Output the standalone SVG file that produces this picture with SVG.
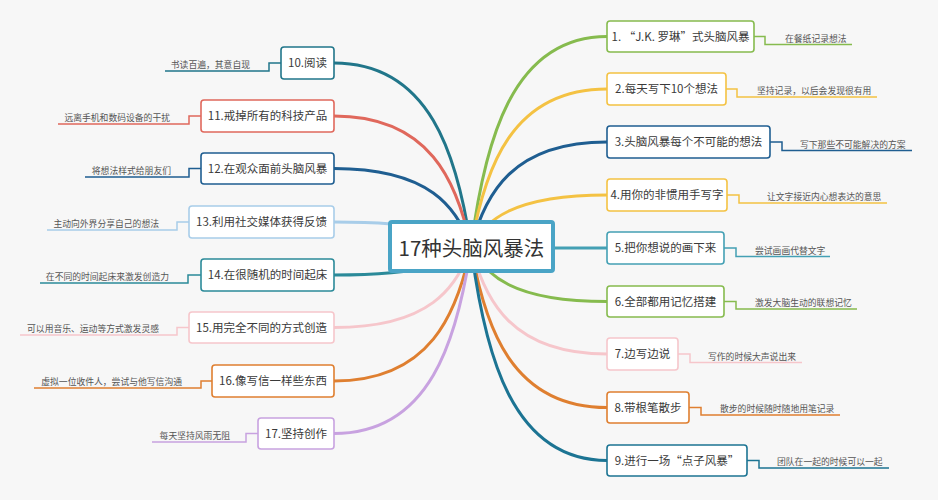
<svg xmlns="http://www.w3.org/2000/svg" width="938" height="500" viewBox="0 0 938 500">
<style>
text{font-family:"Noto Sans CJK SC","Noto Sans",sans-serif;}
.t{font-size:11.5px;fill:#3a3a3a;text-anchor:middle;}
.s{font-size:8.8px;fill:#555;}
.r{text-anchor:end;}
.n{fill:#fff;stroke-width:1.6;}
.m{fill:none;stroke-width:3;stroke-linecap:round;}
.l{fill:none;stroke-width:1.5;}
.green{stroke:#86bb4e}.yellow{stroke:#f4c243}.dblue{stroke:#1f5e91}.teal{stroke:#44a0b4}
.pink{stroke:#f6c6cb}.orange{stroke:#df7f30}.dteal{stroke:#1c7493}.teal2{stroke:#21768a}
.red{stroke:#e0685c}.lblue{stroke:#a8cde9}.teal3{stroke:#2b8a99}.lav{stroke:#c8a2e0}
</style>
<rect x="0" y="0" width="938" height="500" fill="#f7f7f7"/>
<g id="connectors">
<path class="m green" d="M471 247 C484.6 141.75 511.8 36.5 607 36.5"/>
<path class="m yellow" d="M471 247 C484.6 168 511.8 89 607 89"/>
<path class="m dblue" d="M471 247 C484.6 194.5 511.8 142 607 142"/>
<path class="m yellow" d="M471 247 C484.6 221 511.8 195 607 195"/>
<path class="m teal" d="M471 248 H607"/>
<path class="m green" d="M471 247 C484.6 274.25 511.8 301.5 607 301.5"/>
<path class="m pink" d="M471 247 C484.6 300.5 511.8 354 607 354"/>
<path class="m orange" d="M471 247 C484.6 327.25 511.8 407.5 607 407.5"/>
<path class="m dteal" d="M471 247 C484.6 353.75 511.8 460.5 607 460.5"/>
<path class="m teal2" d="M471 247 C457.3 155 429.9 63 334 63"/>
<path class="m red" d="M471 247 C457.3 181.5 429.9 116 334 116"/>
<path class="m dblue" d="M471 247 C457.3 207.75 429.9 168.5 334 168.5"/>
<path class="m lblue" d="M471 247 C457.3 234.5 429.9 222 334 222"/>
<path class="m teal3" d="M471 247 C457.3 261 429.9 275 334 275"/>
<path class="m pink" d="M471 247 C457.3 287.25 429.9 327.5 334 327.5"/>
<path class="m orange" d="M471 247 C457.3 314 429.9 381 334 381"/>
<path class="m lav" d="M471 247 C457.3 340.25 429.9 433.5 334 433.5"/>
<path class="l green" d="M754 36.5 H765 V44.5 H852"/>
<path class="l yellow" d="M726 89 H737 V97 H877"/>
<path class="l dblue" d="M770 142 H782 V150.5 H912"/>
<path class="l yellow" d="M727 195 H739 V203 H887"/>
<path class="l teal" d="M724 248 H736 V256.5 H830"/>
<path class="l green" d="M724 301.5 H736 V309 H857"/>
<path class="l pink" d="M678 354 H690 V362.5 H802"/>
<path class="l orange" d="M689 407.5 H701 V415 H840"/>
<path class="l dteal" d="M747 460.5 H759 V468 H889"/>
<path class="l teal2" d="M281 63 H269 V71 H165"/>
<path class="l red" d="M201 116 H189 V124 H58"/>
<path class="l dblue" d="M201 168.5 H189 V177 H85"/>
<path class="l lblue" d="M189 222 H177 V230 H47"/>
<path class="l teal3" d="M201 275 H188 V283 H40"/>
<path class="l pink" d="M189 327.5 H177 V335 H20"/>
<path class="l orange" d="M212 381 H201 V388 H34"/>
<path class="l lav" d="M258 433.5 H246 V442 H152"/>
</g>
<g id="center">
<rect x="390" y="222" width="163" height="49" rx="2" fill="#fff" stroke="#4aa4c6" stroke-width="4"/>
<text x="471.5" y="256" font-size="20.5" fill="#333" text-anchor="middle">17种头脑风暴法</text>
</g>
<g id="n1"><rect class="n green" x="607" y="21" width="147" height="31" rx="3"/><text class="t" x="680.5" y="40.5">1. “J.K. 罗琳”式头脑风暴</text></g>
<g id="n2"><rect class="n yellow" x="607" y="73" width="119" height="32" rx="3"/><text class="t" x="666.5" y="93">2.每天写下10个想法</text></g>
<g id="n3"><rect class="n dblue" x="607" y="126" width="163" height="32" rx="3"/><text class="t" x="688.5" y="146">3.头脑风暴每个不可能的想法</text></g>
<g id="n4"><rect class="n yellow" x="607" y="179" width="120" height="32" rx="3"/><text class="t" x="667" y="199">4.用你的非惯用手写字</text></g>
<g id="n5"><rect class="n teal" x="607" y="232" width="117" height="32" rx="3"/><text class="t" x="665.5" y="252">5.把你想说的画下来</text></g>
<g id="n6"><rect class="n green" x="607" y="286" width="117" height="31" rx="3"/><text class="t" x="665.5" y="305.5">6.全部都用记忆搭建</text></g>
<g id="n7"><rect class="n pink" x="607" y="338" width="71" height="32" rx="3"/><text class="t" x="642.5" y="358">7.边写边说</text></g>
<g id="n8"><rect class="n orange" x="607" y="392" width="82" height="31" rx="3"/><text class="t" x="648" y="411.5">8.带根笔散步</text></g>
<g id="n9"><rect class="n dteal" x="607" y="445" width="140" height="31" rx="3"/><text class="t" x="677" y="464.5">9.进行一场“点子风暴”</text></g>
<g id="n10"><rect class="n teal2" x="281" y="47" width="53" height="32" rx="3"/><text class="t" x="307.5" y="67">10.阅读</text></g>
<g id="n11"><rect class="n red" x="201" y="100" width="133" height="32" rx="3"/><text class="t" x="267.5" y="120">11.戒掉所有的科技产品</text></g>
<g id="n12"><rect class="n dblue" x="201" y="153" width="133" height="31" rx="3"/><text class="t" x="267.5" y="172.5">12.在观众面前头脑风暴</text></g>
<g id="n13"><rect class="n lblue" x="189" y="206" width="145" height="32" rx="3"/><text class="t" x="261.5" y="226">13.利用社交媒体获得反馈</text></g>
<g id="n14"><rect class="n teal3" x="201" y="259" width="133" height="32" rx="3"/><text class="t" x="267.5" y="279">14.在很随机的时间起床</text></g>
<g id="n15"><rect class="n pink" x="189" y="312" width="145" height="31" rx="3"/><text class="t" x="261.5" y="331.5">15.用完全不同的方式创造</text></g>
<g id="n16"><rect class="n orange" x="212" y="365" width="122" height="32" rx="3"/><text class="t" x="273" y="385">16.像写信一样些东西</text></g>
<g id="n17"><rect class="n lav" x="258" y="418" width="76" height="31" rx="3"/><text class="t" x="296" y="437.5">17.坚持创作</text></g>
<g id="s1"><text class="s" x="785" y="41.5">在餐纸记录想法</text></g>
<g id="s2"><text class="s" x="757" y="94">坚持记录，以后会发现很有用</text></g>
<g id="s3"><text class="s" x="800" y="147.5">写下那些不可能解决的方案</text></g>
<g id="s4"><text class="s" x="767" y="200">让文字接近内心想表达的意思</text></g>
<g id="s5"><text class="s" x="755" y="253.5">尝试画画代替文字</text></g>
<g id="s6"><text class="s" x="755" y="306">激发大脑生动的联想记忆</text></g>
<g id="s7"><text class="s" x="708" y="359.5">写作的时候大声说出来</text></g>
<g id="s8"><text class="s" x="720" y="412">散步的时候随时随地用笔记录</text></g>
<g id="s9"><text class="s" x="777" y="465">团队在一起的时候可以一起</text></g>
<g id="s10"><text class="s r" x="250" y="68">书读百遍，其意自现</text></g>
<g id="s11"><text class="s r" x="170" y="121">远离手机和数码设备的干扰</text></g>
<g id="s12"><text class="s r" x="171" y="174">将想法样式给朋友们</text></g>
<g id="s13"><text class="s r" x="159" y="227">主动向外界分享自己的想法</text></g>
<g id="s14"><text class="s r" x="169" y="280">在不同的时间起床来激发创造力</text></g>
<g id="s15"><text class="s r" x="159" y="332">可以用音乐、运动等方式激发灵感</text></g>
<g id="s16"><text class="s r" x="182" y="385">虚拟一位收件人，尝试与他写信沟通</text></g>
<g id="s17"><text class="s r" x="230" y="439">每天坚持风雨无阻</text></g>
</svg>
